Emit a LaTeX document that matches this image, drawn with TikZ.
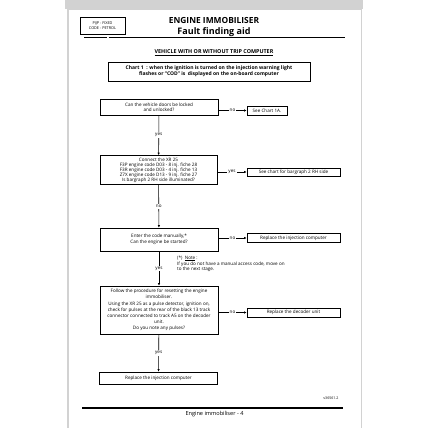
\documentclass[tikz,border=0pt]{standalone}
\usepackage{fontspec}
\setmainfont{Open Sans}
\usepackage{tikz}
\usetikzlibrary{arrows.meta}
\usetikzlibrary{positioning}

\begin{document}
\begin{tikzpicture}[x=1pt, y=-1pt,
    box/.style={draw, line width=0.6pt, align=center, inner sep=0.5pt, font=\fontsize{4.6}{5.3}\selectfont},
    lbl/.style={fill=white, inner sep=1pt, font=\fontsize{4.6}{5}\selectfont},
    link/.style={line width=0.6pt, -{Latex[length=2.6pt, width=2.4pt]}}]
      \useasboundingbox (0, 0) rectangle (428, 428);
      \fill [gray!35] (65, 0) rectangle (363, 9);
      \filldraw [fill=white, draw=gray!35, line width=1.2pt] (68, 9.6) rectangle (361.4, 430);

      \node (tag) [box, line width=0.5pt, minimum width=45pt, minimum height=17pt, font=\fontsize{3.8}{4.8}\selectfont] at (102.5, 25.5) {PIJP - FIXED\\CODE - PETROL};
      \node (title) at (214, 20) {\fontsize{8.4}{10}\selectfont\bfseries ENGINE IMMOBILISER};
      \node (sub) at (214, 32) {\fontsize{9}{10}\selectfont\bfseries Fault finding aid};
      \draw [line width=1pt] (84, 38) -- (107, 38); \draw [line width=1pt] (108.5, 38) -- (345, 38);
      \node (veh) at (214, 53) {\fontsize{5.4}{6}\selectfont\bfseries\underline{VEHICLE WITH OR WITHOUT TRIP COMPUTER}};
      \node (chart) [box, minimum width=202pt, minimum height=19pt, font=\fontsize{5}{6}\selectfont\bfseries] at (209, 71.5) {Chart 1\ \ : when the ignition is turned on the injection warning light\\flashes or ``COD'' is\ \ displayed on the on-board computer};

      \node (q1) [box, minimum width=118pt, minimum height=16pt] at (159, 107) {Can the vehicle doors be locked\\and unlocked?};
      \node (r1) [box, minimum width=40pt, minimum height=9pt] at (267, 110.5) {See Chart 1A.};
      \node (q2) [box, minimum width=117pt, minimum height=29pt, font=\fontsize{4.6}{5}\selectfont] at (158.5, 170) {Connect the XR 25\\F3P engine code D03 - 8 inj. fiche 28\\F3R engine code D03 - 4 inj. fiche 13\\Z7X engine code D13 - 9 inj. fiche 27\\Is bargraph 2 RH side illuminated?};
      \node (r2) [box, minimum width=93pt, minimum height=8pt] at (293.5, 172) {See chart for bargraph 2 RH side};
      \node (q3) [box, minimum width=118pt, minimum height=23pt, font=\fontsize{4.6}{6.4}\selectfont] at (159, 239.5) {Enter the code manually,*\\Can the engine be started?};
      \node (r3) [box, minimum width=93pt, minimum height=8.5pt] at (293.5, 238) {Replace the injection computer};
      \node (note) [anchor=north west, align=left, inner sep=0pt, font=\fontsize{4.6}{5.2}\selectfont] at (177, 255.5) {(*)\ \ \underline{Note} :\\If you do not have a manual access code, move on\\to the next stage.};
      \node (q4) [box, minimum width=118pt, minimum height=48pt, font=\fontsize{4.6}{6.2}\selectfont] at (159, 310) {Follow the procedure for resetting the engine\\immobiliser.\\Using the XR 25 as a pulse detector, ignition on,\\check for pulses at the rear of the black 13 track\\connector connected to track A5 on the decoder\\unit.\\Do you note any pulses?};
      \node (r4) [box, minimum width=93pt, minimum height=9pt] at (293.5, 312.5) {Replace the decoder unit};
      \node (q5) [box, minimum width=118pt, minimum height=12pt] at (158.5, 378) {Replace the injection computer};

      \node (code) [font=\fontsize{3.6}{4}\selectfont] at (331, 398.5) {s36561.2};
      \draw [line width=1.2pt] (82, 408) -- (343, 408);
      \node (foot) at (214.5, 414) {\fontsize{5.6}{6}\selectfont Engine immobiliser - 4};

      \path [link]
      (q1) edge node [lbl] {yes} (q2)
      (q2) edge node [lbl] {no} (q3)
      (q3) edge node [lbl] {yes} (q4)
      (q4) edge node [lbl] {yes} (q5)
      (q1.east |- r1.west) edge node [lbl] {no} (r1.west)
      (q2.east |- r2.west) edge node [lbl] {yes} (r2.west)
      (q3.east |- r3.west) edge node [lbl] {no} (r3.west)
      (q4.east |- r4.west) edge node [lbl] {no} (r4.west);
\end{tikzpicture}
\end{document}
